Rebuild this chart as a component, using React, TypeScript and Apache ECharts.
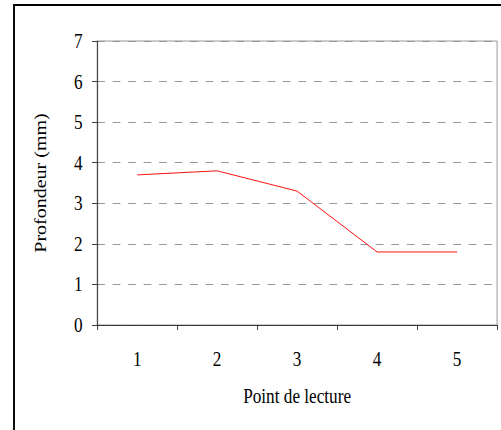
import React, { useEffect, useRef } from "react";
import * as echarts from "echarts";

const categories = ["1", "2", "3", "4", "5"];
const depthValues = [3.7, 3.8, 3.3, 1.8, 1.8];
const yTicks = [0, 1, 2, 3, 4, 5, 6, 7];

const FONT = "Liberation Serif";
const SQUEEZE = 0.86;
const INNER_W = Math.round(501 / SQUEEZE);

export default function App() {
  const ref = useRef<HTMLDivElement>(null);
  useEffect(() => {
    if (!ref.current) return;
    const chart = echarts.init(ref.current, null, { renderer: "svg" });
    chart.setOption({
      animation: false,
      backgroundColor: "#ffffff",
      textStyle: { fontFamily: FONT },
      graphic: [
        {
          type: "rect",
          shape: { x: 16.3, y: 5, width: 700, height: 600 },
          style: { fill: "none", stroke: "#000", lineWidth: 2.2 },
          silent: true,
        },
      ],
      grid: {
        left: 113,
        top: 41,
        right: 5,
        bottom: 105,
        show: true,
        borderColor: "#909090",
        borderWidth: 1,
      },
      xAxis: {
        type: "category",
        data: categories,
        boundaryGap: true,
        name: "Point de lecture",
        nameLocation: "middle",
        nameGap: 61,
        nameTextStyle: { fontFamily: FONT, fontSize: 20, color: "#000" },
        axisLine: { lineStyle: { color: "#303030", width: 1 } },
        axisTick: { show: true, length: 5, inside: false, lineStyle: { color: "#303030" } },
        axisLabel: { fontFamily: FONT, fontSize: 20, color: "#000", margin: 24 },
        splitLine: { show: false },
      },
      yAxis: {
        type: "value",
        min: yTicks[0],
        max: yTicks[yTicks.length - 1],
        interval: 1,
        name: "Profondeur (mm)",
        nameLocation: "middle",
        nameGap: 56,
        nameRotate: 90,
        nameTextStyle: { fontFamily: FONT, fontSize: 20, color: "#000" },
        axisLine: { show: true, lineStyle: { color: "#303030", width: 1 } },
        axisTick: { show: true, length: 6, inside: false, lineStyle: { color: "#303030" } },
        axisLabel: { fontFamily: FONT, fontSize: 20, color: "#000", margin: 17 },
        splitLine: {
          show: true,
          lineStyle: { color: "#909090", type: [9, 9], width: 1 },
        },
      },
      series: [
        {
          type: "line",
          data: depthValues,
          symbol: "none",
          lineStyle: { color: "#ff0000", width: 1 },
          itemStyle: { color: "#ff0000" },
        },
      ],
    });
    return () => chart.dispose();
  }, []);
  return (
    <div
      style={{
        position: "fixed",
        left: 0,
        top: 0,
        width: 501,
        height: 430,
        overflow: "hidden",
        background: "#fff",
      }}
    >
      <div
        ref={ref}
        style={{
          width: INNER_W,
          height: 430,
          transform: `scaleX(${SQUEEZE})`,
          transformOrigin: "0 0",
        }}
      />
    </div>
  );
}
